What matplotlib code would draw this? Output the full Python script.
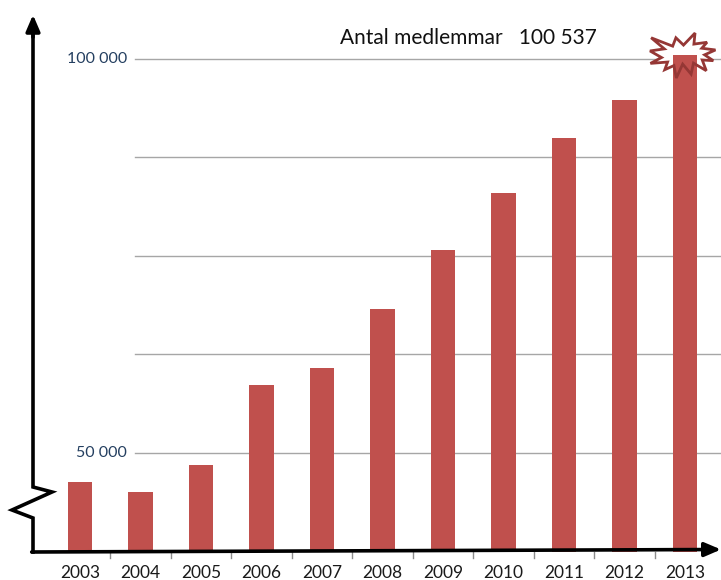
import matplotlib.pyplot as plt
import numpy as np
from matplotlib.patches import Polygon

# data
years = ['2003', '2004', '2005', '2006', '2007', '2008',
         '2009', '2010', '2011', '2012', '2013']
members = [46300, 45000, 48500, 58600, 60750, 68250,
           75800, 83000, 89950, 94800, 100537]
grid_values = [50000, 62500, 75000, 87500, 100000]
ytick_values = [50000, 100000]
ytick_labels = ['50 000', '100 000']
title = 'Antal medlemmar   100 537'

W, H = 721, 580
bar_color = '#c0504d'
star_color = '#953735'
font = 'Lato'

# pixel helpers (origin top-left) -> figure fraction
def fx(px):
    return px / W

def fy(py):
    return 1 - py / H

fig = plt.figure(figsize=(W / 100, H / 100), dpi=100)
ax = fig.add_axes([0, 0, 1, 1])
ax.axis('off')

# data scale: category i centred at 80 + 60.5*i px, 50 000 at 452.7 px, 100 000 at 59 px
step_x, x0 = 60.5, 80
per_px = 50000 / (452.7 - 59)
ax.set_xlim((0 - x0) / step_x, (W - x0) / step_x)
ax.set_ylim(50000 - (H - 452.7) * per_px, 50000 + 452.7 * per_px)

axis_y = 552
base = 50000 - (axis_y - 452.7) * per_px

x = np.arange(len(years))
vals = np.array(members)
ax.bar(x, vals - base, bottom=base, width=0.4, color=bar_color, zorder=2)

# gridlines
for g in grid_values:
    ax.axhline(g, xmin=fx(135), xmax=1, color='#a6a6a6', lw=1, zorder=1)

# y labels
for v, lab in zip(ytick_values, ytick_labels):
    ax.text(fx(127), v, lab, transform=ax.get_yaxis_transform(), ha='right',
            va='center', fontsize=11.5, color='#243f60', family=font)

# year labels
for i, yr in enumerate(years):
    ax.text(i, fy(573), yr, transform=ax.get_xaxis_transform(), ha='center',
            va='center', fontsize=12.5, color='#1a1a1a', family=font)

# category separator ticks under the x axis
for i in range(len(years) - 1):
    ax.plot([i + 0.5, i + 0.5], [fy(axis_y), fy(558)], color='#8c8c8c', lw=1,
            transform=ax.get_xaxis_transform(), clip_on=False, zorder=3)

# title text
fig.text(fx(340), fy(38), title, ha='left', va='center', fontsize=15,
         color='#111111', family=font)

# y axis with break zigzag
fig.add_artist(plt.Line2D([fx(v) for v in [33, 33, 52, 12, 33, 33]],
                          [fy(v) for v in [30, 487, 492, 510, 518, axis_y]],
                          color='black', lw=2.6, solid_joinstyle='miter'))
ax.annotate('', xy=(fx(33), fy(12)), xytext=(fx(33), fy(40)),
            xycoords='figure fraction', textcoords='figure fraction',
            arrowprops=dict(arrowstyle='-|>,head_length=0.7,head_width=0.3',
                            color='black', lw=2.6, mutation_scale=14))
# x axis
ax.annotate('', xy=(fx(W), fy(549.5)), xytext=(fx(31.7), fy(axis_y)),
            xycoords='figure fraction', textcoords='figure fraction',
            arrowprops=dict(arrowstyle='-|>,head_length=0.7,head_width=0.3',
                            color='black', lw=2.6, mutation_scale=14,
                            shrinkA=0, shrinkB=0))

# explosion shape around the 2013 bar top
seal = np.array([(10800, 5800), (14522, 0), (14155, 5325), (18380, 4457),
                 (16702, 7315), (21097, 8137), (17607, 10475), (20400, 13290),
                 (16837, 12942), (18145, 18095), (14020, 14457), (13247, 19737),
                 (10532, 14935), (8485, 21600), (7715, 15627), (4762, 17617),
                 (5667, 13937), (135, 14587), (3722, 11775), (0, 8615),
                 (4627, 7617), (370, 2295), (7312, 6320), (8352, 2295)]) / 21600.0
sx = fx(650 + seal[:, 0] * 67)
sy = fy(33 + seal[:, 1] * 45)
pts = np.column_stack([sx, sy])
ax.add_patch(Polygon(pts, closed=True, transform=fig.transFigure,
                     facecolor='white', edgecolor='none', zorder=1.5))
ax.add_patch(Polygon(pts, closed=True, transform=fig.transFigure,
                     facecolor='none', edgecolor=star_color, lw=2, zorder=4))

fig.savefig('out.png', dpi=100)
